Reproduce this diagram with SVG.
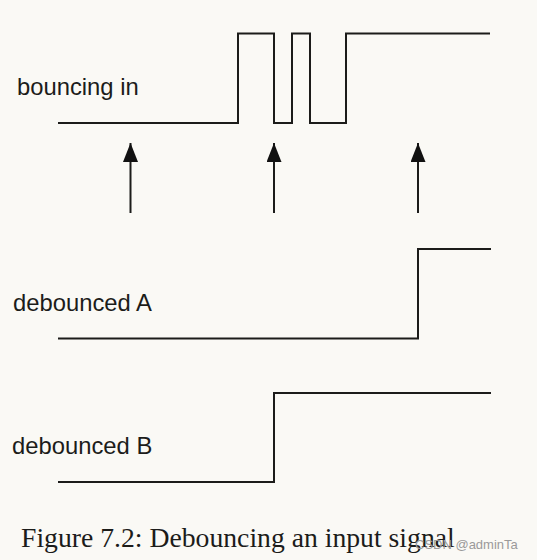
<svg xmlns="http://www.w3.org/2000/svg" width="537" height="560" viewBox="0 0 537 560">
<defs>
<style>
.sig{fill:none;stroke:#1c1c1a;stroke-width:2;stroke-linejoin:miter}
.lbl{font-family:"Liberation Sans",Arial,sans-serif;font-size:23.8px;fill:#1c1c1a}
.arr{stroke:#1c1c1a;stroke-width:2}
.cap{font-family:"Liberation Serif","Times New Roman",serif;font-size:27.7px;fill:#1c1c1a}
.wm{font-family:"Liberation Sans",Arial,sans-serif;font-size:13px;fill:#9a9a9a}
</style>
<marker id="ah" viewBox="0 0 19 15" refX="19" refY="7.5" markerWidth="19" markerHeight="15" markerUnits="userSpaceOnUse" orient="auto">
<path d="M0,0 L19,7.5 L0,15 Z" fill="#111"/>
</marker>
</defs>
<rect width="537" height="560" fill="#faf9f5"/>
<g id="bouncing">
<path class="sig" d="M58,123 H238 V33.5 H274 V123 H292 V33.5 H310 V123 H346 V33.5 H490"/>
<text class="lbl" x="17" y="95">bouncing in</text>
</g>
<g id="debouncedA">
<path class="sig" d="M58,338.5 H418 V249 H491"/>
<text class="lbl" x="13" y="311">debounced A</text>
</g>
<g id="debouncedB">
<path class="sig" d="M58,482 H274 V393 H491"/>
<text class="lbl" x="12" y="454">debounced B</text>
</g>
<g id="connectors">
<line class="arr" x1="130.5" y1="213" x2="130.5" y2="143" marker-end="url(#ah)"/>
<line class="arr" x1="274" y1="213" x2="274" y2="143" marker-end="url(#ah)"/>
<line class="arr" x1="418" y1="213" x2="418" y2="143" marker-end="url(#ah)"/>
</g>
<g id="caption">
<text class="cap" x="21" y="547">Figure 7.2: Debouncing an input signal</text>
<text class="wm" x="415" y="549">CSDN @adminTa</text>
</g>
</svg>
